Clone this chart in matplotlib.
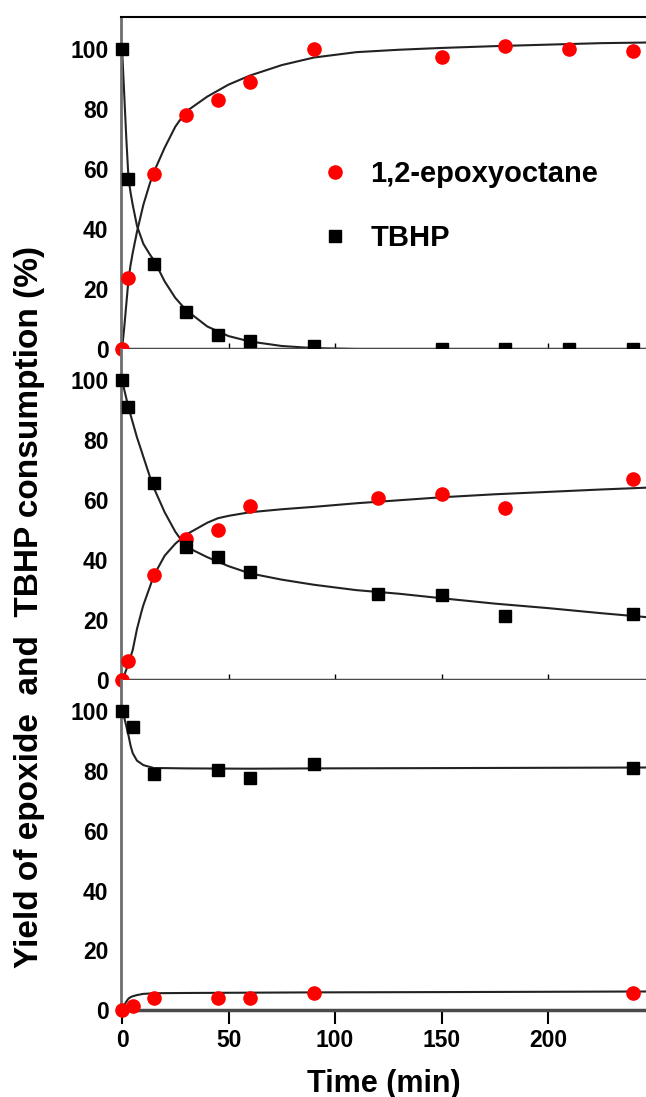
import matplotlib
matplotlib.use("Agg")
import matplotlib.pyplot as plt
from matplotlib.lines import Line2D

plt.rcParams['font.family'] = ['Liberation Sans', 'DejaVu Sans']
plt.rcParams['font.weight'] = 'bold'

# measured points (time in min, % values), one set per panel (top -> bottom)
t_top = [0, 3, 15, 30, 45, 60, 90, 150, 180, 210, 240]
epox_top = [0, 23.7, 58.3, 78, 83, 89, 99.7, 97.3, 101, 100, 99.3]
tbhp_top = [100, 56.7, 28.3, 12.3, 4.7, 2.7, 1, 0, 0, 0, 0]

t_mid = [0, 3, 15, 30, 45, 60, 120, 150, 180, 240]
epox_mid = [0, 6.3, 35, 47, 50, 58, 60.7, 62, 57.3, 67]
tbhp_mid = [100, 91.3, 65.7, 44.3, 41, 36, 28.7, 28.3, 21.3, 22]

t_bot = [0, 5, 15, 45, 60, 90, 240]
epox_bot = [0, 1.2, 4.1, 4, 4, 5.6, 5.6]
tbhp_bot = [100, 94.7, 79, 80.3, 77.8, 82.4, 81.1]

# fitted curves
tc_top = [0, 1, 2, 3, 4, 5, 7, 10, 13, 15, 20, 25, 30, 40, 50, 60, 75, 90, 110, 130, 150, 175, 200, 225, 246]
epox_fit_top = [0, 7, 15, 23, 28, 32, 39, 48, 55, 59, 67, 74, 79, 84, 88, 91, 94.5, 97, 98.8, 99.6, 100.2, 100.8, 101.3, 101.8, 102]
tbhp_fit_top = [100, 85, 70, 57, 52, 48, 41, 35, 31.5, 29.5, 22.5, 17, 13, 7.5, 4.3, 2.5, 1, 0.3, 0, 0, 0, 0, 0, 0, 0]

tc_mid = [0, 1, 2, 3, 5, 7, 9, 10, 13, 15, 20, 25, 30, 40, 45, 50, 60, 75, 90, 110, 130, 150, 175, 200, 225, 246]
epox_fit_mid = [0, 1.5, 3.5, 5.5, 10, 17, 22.5, 25, 31, 35, 41.5, 45.5, 48.5, 52.5, 54, 54.8, 56, 57, 57.8, 59, 60, 61, 62, 62.8, 63.6, 64.2]
tbhp_fit_mid = [100, 97, 94, 91, 86, 81, 76.7, 74.5, 68, 64, 56, 49.5, 44.5, 41, 39.5, 38, 35.6, 33.5, 31.8, 30, 28.8, 27.3, 25.5, 24, 22.3, 21]

tc_bot = [0, 1, 2, 3, 4, 5, 7, 10, 15, 20, 30, 60, 90, 150, 200, 246]
epox_fit_bot = [0, 1.5, 2.8, 3.8, 4.3, 4.6, 5, 5.4, 5.6, 5.65, 5.7, 5.8, 5.9, 6, 6.1, 6.2]
tbhp_fit_bot = [100, 98, 95, 92, 88.5, 86, 83.5, 82, 81, 81, 80.9, 80.8, 80.9, 81, 81.1, 81.2]

panels = [
    (t_top, epox_top, tbhp_top, tc_top, epox_fit_top, tbhp_fit_top),
    (t_mid, epox_mid, tbhp_mid, tc_mid, epox_fit_mid, tbhp_fit_mid),
    (t_bot, epox_bot, tbhp_bot, tc_bot, epox_fit_bot, tbhp_fit_bot),
]

red = '#ff0000'
fig = plt.figure(figsize=(6.46, 10.97), dpi=100)
left, width = 121 / 646, 525 / 646
edges = [17, 349, 680, 1010]
axes = []
for i, (t, ep, tb, tc, epf, tbf) in enumerate(panels):
    top_px, bot_px = edges[i], edges[i + 1]
    ax = fig.add_axes([left, 1 - bot_px / 1097, width, (bot_px - top_px) / 1097])
    ax.plot(tc, epf, color='#222222', lw=1.5, zorder=2)
    ax.plot(tc, tbf, color='#222222', lw=1.5, zorder=2)
    ax.plot(t, ep, 'o', color=red, ms=9.5, mec=red, clip_on=False, zorder=4)
    ax.plot(t, tb, 's', color='black', ms=8.5, clip_on=False, zorder=4)
    ax.set_xlim(-0.5, 246)
    ax.set_ylim(0, 110.5)
    ax.set_yticks([0, 20, 40, 60, 80, 100])
    ax.tick_params(axis='y', length=0, pad=9, labelsize=16.5)
    ax.set_xticks([0, 50, 100, 150, 200])
    ax.spines['right'].set_visible(False)
    ax.spines['left'].set_color('#6e6e6e')
    ax.spines['left'].set_linewidth(2)
    ax.spines['bottom'].set_color('#4a4a4a')
    ax.spines['bottom'].set_linewidth(2.5)
    if i == 0:
        ax.spines['top'].set_color('black')
        ax.spines['top'].set_linewidth(1.5)
    else:
        ax.spines['top'].set_visible(False)
    if i < 2:
        ax.tick_params(axis='x', direction='in', length=4, width=1, labelbottom=False)
    else:
        ax.tick_params(axis='x', direction='out', length=10, width=1.5, pad=4, labelsize=16.5)
    for lab in ax.get_xticklabels() + ax.get_yticklabels():
        lab.set_fontweight('bold')
    axes.append(ax)

axes[2].set_xlabel('Time (min)', fontsize=22, fontweight='bold', labelpad=12)
fig.text(0.045, 1 - 607 / 1097, 'Yield of epoxide  and  TBHP consumption (%)', rotation=90,
         ha='center', va='center', fontsize=24, fontweight='bold')

handles = [Line2D([], [], ls='none', marker='o', color=red, ms=9.5),
           Line2D([], [], ls='none', marker='s', color='black', ms=8.5)]
axes[0].legend(handles, ['1,2-epoxyoctane', 'TBHP'], loc='upper left',
               bbox_to_anchor=(320 / 646, 1 - 160 / 1097), bbox_transform=fig.transFigure,
               frameon=False, handlelength=1.0, handletextpad=0.72,
               labelspacing=1.23, borderpad=0, borderaxespad=0,
               prop={'weight': 'bold', 'size': 21})

fig.savefig('out.png', dpi=100)
